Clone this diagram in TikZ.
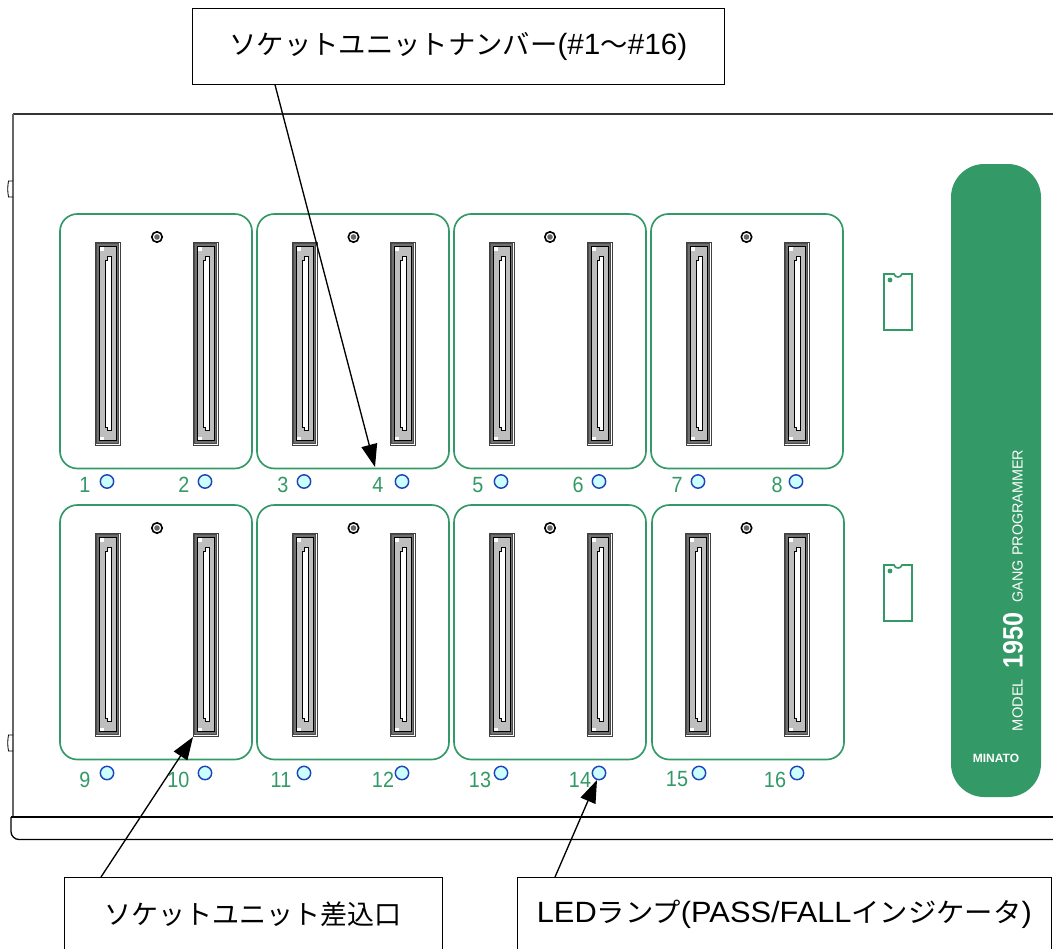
\documentclass[tikz,border=0pt]{standalone}
\usepackage{fontspec}
\setmainfont{Liberation Sans}
\newfontfamily\jpfont{Noto Sans CJK JP}
\usetikzlibrary{calc,arrows.meta}
\definecolor{mgreen}{HTML}{339966}
\definecolor{ledfill}{HTML}{CCFFFF}
\definecolor{ledline}{HTML}{1F45B8}
\definecolor{slotgrey}{HTML}{BEBEBE}
\definecolor{slotdark}{HTML}{707070}
\newcommand{\kana}[1]{{\jpfont\fontsize{20.25}{25}\selectfont #1}}
\tikzset{
  x=0.75pt,y=-0.75pt,
  lbl/.style={draw=black,line width=0.6pt,fill=white,inner sep=0pt,font=\fontsize{22}{25}\selectfont,anchor=north west},
  callout/.style={draw=black,line width=1pt,-{Triangle[length=17pt,width=12pt]}},
  unitbox/.style={draw=mgreen,line width=1.25pt,rounded corners=13pt},
  ledlamp/.style={circle,draw=ledline,fill=ledfill,line width=1.1pt,minimum size=10pt,inner sep=0pt},
  numlbl/.style={text=mgreen,inner sep=0pt,font=\fontsize{16.5}{18}\selectfont},
  paneltxt/.style={text=white,inner sep=0pt,font=\fontsize{11}{12}\selectfont},
  chipbox/.style={draw=mgreen,line width=1.25pt},
  pics/sockslot/.style={code={
    % origin = top-left of outer frame, 25 wide, 203 tall
    \draw[black!75,line width=0.5pt,fill=white] (0,0) rectangle (25,203);
    \draw[black!70,line width=0.4pt,fill=slotdark] (1.5,1.5) rectangle (23.5,201.5);
    \fill[slotgrey] (4.5,4) rectangle (22,199);
    \draw[black,line width=0.7pt] (4.5,4.5) rectangle (21.5,198.5);
    \fill[white] (5,5) rectangle (8.5,8.5);
    \fill[white] (5,194.5) rectangle (8.5,198);
    \draw[black,line width=0.5pt,fill=white] (10,18) -- (12,18) -- (12,14) -- (16,14) -- (16,188) -- (12,188) -- (12,185) -- (10,185) -- cycle;
  }},
  pics/screw/.style={code={
    \draw[black,line width=1.2pt,fill=white] (0,0) circle (5.2);
    \fill[black!60] (0,0) circle (2.8);
  }},
  pics/chipmark/.style={code={
    \draw[chipbox] (0,0) -- (10,0) .. controls (11,4) and (17,4) .. (18,0) -- (28,0) -- (28,56) -- (0,56) -- cycle;
    \fill[mgreen] (6,6) circle (2.4);
  }}
}
\begin{document}
\begin{tikzpicture}
\clip (0,0) rectangle (1053,949);
\useasboundingbox (0,0) rectangle (1053,949);
\fill[white] (0,0) rectangle (1053,949);

% casing
\draw[black!80,line width=0.8pt] (13,114) -- (1053,114);
\draw[black!60,line width=1.1pt] (13,114) -- (13,817);
\draw[black,line width=0.6pt] (13,181) -- (8.5,181) .. controls (7.5,186) and (7.5,192) .. (8.5,197) -- (13,197);
\draw[black,line width=0.6pt] (13,735) -- (8.5,735) .. controls (7.5,740) and (7.5,746) .. (8.5,751) -- (13,751);
\draw[black,line width=1pt,rounded corners=6pt] (1053,839.5) -- (11,839.5) -- (11,817);
\draw[black,line width=1pt] (11,817) -- (1053,817);

% model panel
\fill[mgreen,rounded corners=25pt] (951,164) rectangle (1041,797);
\node[paneltxt,rotate=90] (gang) at (1017.5,526) {\scalebox{0.98}[1]{GANG PROGRAMMER}};
\node[paneltxt,rotate=90] (num) at (1013,640.5) {\bfseries\fontsize{21}{24}\selectfont\scalebox{0.9}[1]{1950}};
\node[paneltxt,rotate=90] (model) at (1017.5,705) {MODEL};
\node[paneltxt] (minato) at (996,758) {\bfseries\fontsize{9}{10}\selectfont MINATO};

% chips
\pic at (884,274) {chipmark};
\pic at (884,565) {chipmark};

% socket units: left, top, left socket x, right socket x, screw x
\foreach \ux/\uy/\sa/\sb/\sc in {
  60/214/95/193/157, 257/214/292/390/353.5, 454/214/489/587/550, 651/214/686/784/746.5,
  60/505/95/193/157, 257/505/292/390/353.5, 454/505/489/587/550, 652/505/685/784/746.5}{
  \draw[unitbox] (\ux,\uy) rectangle ++(192,254.5);
  \pic at ($(\sa,\uy)+(0,28)$) {sockslot};
  \pic at ($(\sb,\uy)+(0,28)$) {sockslot};
  \pic at ($(\sc,\uy)+(0,23)$) {screw};
}

% LEDs and numbers
\foreach \lx/\ly/\nx/\ny/\t in {
 107/481.5/85/485/1, 205/481.5/184/485/2, 304/481.5/283/485/3, 402/481.5/378/485/4,
 501/481.5/478/485/5, 599/481.5/578/485/6, 698/481.5/677/485/7, 796/481.5/777/485/8,
 107/773/85/779.5/9, 205/773/178.5/779.5/10, 304/773/281/779.5/11, 402/773/383/779.5/12,
 501/773/480/779.5/13, 599/773/580/779.5/14, 699/773/677/779.5/15, 797/773/775/779.5/16}{
  \node[ledlamp] (led\t) at (\lx,\ly) {};
  \node[numlbl] (num\t) at (\nx,\ny) {\scalebox{0.9}[1]{\t}};
}

% callout boxes
\node[lbl,minimum width=399pt,minimum height=57pt] (boxA) at (192,8) {\scalebox{1.012}[1]{\kana{ソケットユニットナンバー}(\#1\kana{～}\#16)}};
\node[lbl,minimum width=283.5pt,minimum height=55.5pt] (boxB) at (64,877) {\kana{ソケットユニット差込口}};
\node[lbl,minimum width=400.5pt,minimum height=55.5pt] (boxC) at (517,877) {\scalebox{1.05}[1]{LED\kana{ランプ}(PASS/FALL\kana{インジケータ})}};

% callout arrows
\coordinate (tipA) at (375,467);
\coordinate (tipB) at (193,737);
\coordinate (tipC) at (597,780);
\draw[callout] ($(boxA.south west)+(83,0)$) -- (tipA);
\draw[callout] ($(boxB.north west)+(37,0)$) -- (tipB);
\draw[callout] ($(boxC.north west)+(38,0)$) -- (tipC);
\end{tikzpicture}
\end{document}
